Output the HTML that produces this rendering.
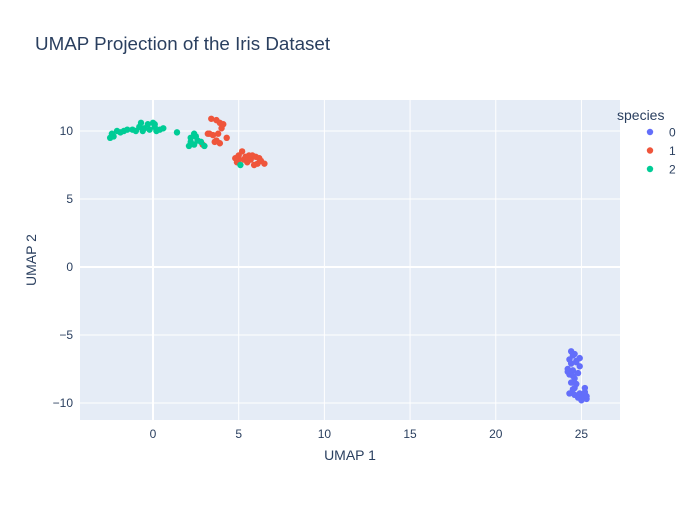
<!DOCTYPE html>
<html><head><meta charset="utf-8"><style>
body{margin:0;background:#fff;font-family:"Liberation Sans",sans-serif}
text{font-family:"Liberation Sans",sans-serif;fill:#2a3f5f}
</style></head><body>
<svg width="700" height="500">
<rect width="700" height="500" fill="#fff"/>
<rect x="80" y="100" width="540" height="320" fill="#e5ecf6"/>
<g id="grid"></g>
<g id="marks"></g>
<text x="35" y="50" font-size="18.8">UMAP Projection of the Iris Dataset</text>
<text x="350" y="460" font-size="14" text-anchor="middle">UMAP 1</text>
<text transform="translate(36,260) rotate(-90)" font-size="14" text-anchor="middle">UMAP 2</text>
<g id="legend"></g>
</svg>
<script>
const xTicks=[0,5,10,15,20,25];
const yTicks=[-10,-5,0,5,10];
const speciesNames=["0","1","2"];
const speciesColors=["#636efa","#ef553b","#00cc96"];
const s0x=[24.4,24.6,24.3,24.7,24.9,24.2,24.5,24.8,24.3,24.6,24.4,24.7,24.5,24.3,24.6,24.9,25.1,25.3,25.2,25.2,24.8,25.0,24.5,24.9,24.6,24.4,24.2,25.3,24.5,24.7];
const s0y=[-6.2,-6.4,-6.8,-7,-6.7,-7.5,-7.6,-7.8,-7.9,-8.2,-8.5,-8.6,-9,-9.3,-9.4,-9.3,-9.5,-9.7,-9.2,-8.9,-9.6,-9.8,-6.5,-7.3,-8.9,-7.1,-7.7,-9.5,-8.0,-6.9];
const s1x=[3.4,3.7,3.9,4,3.8,3.5,3.2,4.3,3.7,3.9,3.6,2.9,4.8,5,5.2,5.3,5.5,5.7,5.8,6,6.1,6.3,6.5,5.9,4.9,5.5,6.2,5.6,5,4.1,3.3,5.4];
const s1y=[10.9,10.8,10.6,10.2,9.8,9.7,9.8,9.5,9.3,9.1,9.2,9.0,8,8.2,8.5,7.9,8,7.9,8.2,8.1,7.6,7.8,7.6,7.5,7.7,7.7,8.0,8.2,7.9,10.5,9.8,8.1];
const s2x=[-2.5,-2.4,-2.3,-2.1,-1.9,-1.5,-1.2,-1,-0.8,-0.7,-0.5,-0.3,-0.6,0,0.1,0.2,0.4,-0.2,0.1,1.4,2.2,2.4,2.6,2.1,2.4,2.8,3,2.5,2.2,5.1,-1.7,0.6];
const s2y=[9.5,9.8,9.6,10,9.9,10.1,10.1,10,10.3,10.6,10.2,10.5,10,10.6,10.3,10,10.1,10.1,10.5,9.9,9.5,9.8,9.3,8.9,9,9.2,8.9,9.6,9.2,7.5,10.0,10.2];
const X0=80,X1=620,Y0=100,Y1=420,xmin=-4.26,xmax=27.25,ymin=-11.25,ymax=12.28;
const sx=v=>X0+(v-xmin)/(xmax-xmin)*(X1-X0);
const sy=v=>Y1-(v-ymin)/(ymax-ymin)*(Y1-Y0);
const NS="http://www.w3.org/2000/svg";
function mk(t,a,p){const e=document.createElementNS(NS,t);for(const k in a)e.setAttribute(k,a[k]);p.appendChild(e);return e;}
const grid=document.getElementById('grid');
xTicks.forEach(t=>{
 const l=mk('line',{x1:sx(t),x2:sx(t),y1:Y0,y2:Y1,stroke:'#fff','stroke-width':t===0?2:1},grid);
 
 
 const tx=mk('text',{x:sx(t),y:438,'font-size':12,'text-anchor':'middle'},grid);tx.textContent=t;
 
 
});
yTicks.forEach(t=>{
 const l=mk('line',{x1:X0,x2:X1,y1:sy(t),y2:sy(t),stroke:'#fff','stroke-width':t===0?2:1},grid);
 
 
 const tx=mk('text',{x:73,y:sy(t)+4,'font-size':12,'text-anchor':'end'},grid);tx.textContent=t<0?'\u2212'+(-t):t;
 
 
});
const marks=document.getElementById('marks');
[[s0x,s0y],[s1x,s1y],[s2x,s2y]].forEach((s,i)=>{
 s[0].forEach((x,j)=>{
  const c=mk('circle',{cx:sx(x),cy:sy(s[1][j]),r:3.2,fill:speciesColors[i]},marks);
  
  
 });
});
const lg=document.getElementById('legend');
const lt=mk('text',{x:617,y:120,'font-size':14},lg);lt.textContent='species';


speciesNames.forEach((n,i)=>{
 const y=132+i*18.5;
 const c=mk('circle',{cx:650,cy:y,r:3.2,fill:speciesColors[i]},lg);
 
 
 const t=mk('text',{x:669,y:y+4.5,'font-size':12},lg);t.textContent=n;
 
 
});
</script>
</body></html>
